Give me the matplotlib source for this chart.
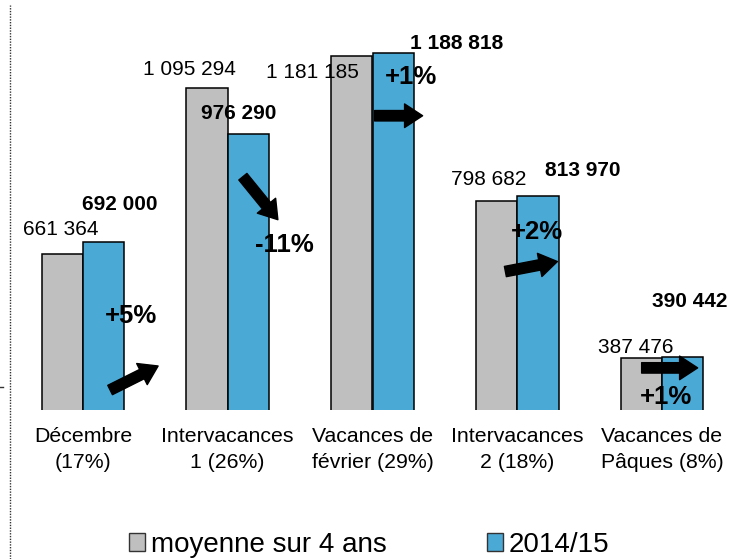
import matplotlib
matplotlib.use("Agg")
import matplotlib.pyplot as plt
from matplotlib.patches import Patch
from matplotlib.lines import Line2D
from matplotlib.transforms import offset_copy
import numpy as np

plt.rcParams['font.family'] = ['Liberation Sans', 'DejaVu Sans']

categories = ["Décembre\n(17%)", "Intervacances\n1 (26%)", "Vacances de\nfévrier (29%)",
              "Intervacances\n2 (18%)", "Vacances de\nPâques (8%)"]
moyenne = [661364, 1095294, 1181185, 798682, 387476]
saison = [692000, 976290, 1188818, 813970, 390442]
series_names = ["moyenne sur 4 ans", "2014/15"]

GREY = "#BFBFBF"
BLUE = "#4BA9D5"

W, H, DPI = 745, 559, 100
fig = plt.figure(figsize=(W / DPI, H / DPI), dpi=DPI)
ax = fig.add_axes([10.6 / W, 149 / H, 723.8 / W, 400 / H])

x = np.arange(len(categories))
bw = 0.285
ax.bar(x - bw / 2, moyenne, bw, color=GREY, edgecolor="black", linewidth=1.1, zorder=2)
ax.bar(x + bw / 2, saison, bw, color=BLUE, edgecolor="black", linewidth=1.1, zorder=2)

ax.set_xlim(-0.5, len(categories) - 0.5)
ax.set_ylim(251000, 1301000)
for s in ax.spines.values():
    s.set_visible(False)
ax.set_yticks([])
ax.set_xticks(x, categories, fontsize=15.3, linespacing=1.5)
ax.tick_params(axis="x", length=0, pad=12)

def fmt(v):
    return f"{v:,}".replace(",", " ")

# label offsets in pixels (dx, dy downward) relative to bar top centers
grey_off = [(-2, -24), (-18, -19), (-39, 17), (-8, -22), (-5.5, -11)]
blue_off = [(16.5, -37), (-9.5, -20), (63.5, -9), (44.5, -25), (7, -55)]
pct_off = [(27.5, 74), (36.5, 111), (17.5, 24), (-0.5, 36), (-17, 40)]
arrow_tail = [(6.5, 148), (-5.5, 43), (-18.5, 63), (-32.5, 76), (-41, 11)]
arrow_head = [(54.5, 124), (29.5, 86), (29.5, 63), (19.5, 66), (15, 11)]

for i in range(len(categories)):
    ax.annotate(fmt(moyenne[i]), xy=(x[i] - bw / 2, moyenne[i]),
                xytext=(grey_off[i][0], -grey_off[i][1]), textcoords="offset pixels",
                ha="center", va="center", fontsize=15, zorder=3)
    ax.annotate(fmt(saison[i]), xy=(x[i] + bw / 2, saison[i]),
                xytext=(blue_off[i][0], -blue_off[i][1]), textcoords="offset pixels",
                ha="center", va="center", fontsize=15, fontweight="bold", zorder=3)
    pct = round((saison[i] / moyenne[i] - 1) * 100)
    ax.annotate(f"{pct:+d}%", xy=(x[i] + bw / 2, saison[i]),
                xytext=(pct_off[i][0], -pct_off[i][1]), textcoords="offset pixels",
                ha="center", va="center", fontsize=18.5, fontweight="bold", zorder=4)
    hx, hy = arrow_head[i]
    tx, ty = arrow_tail[i]
    tr = offset_copy(ax.transData, fig=fig, x=hx, y=-hy, units="dots")
    ax.annotate("", xy=(x[i] + bw / 2, saison[i]), xycoords=tr,
                xytext=(tx - hx, -(ty - hy)), textcoords="offset pixels",
                arrowprops=dict(arrowstyle="simple,head_length=13,head_width=17,tail_width=7.5",
                                mutation_scale=1, color="black", shrinkA=0, shrinkB=0),
                zorder=4)

handles = [Patch(facecolor=GREY, edgecolor="#333333", linewidth=1),
           Patch(facecolor=BLUE, edgecolor="#333333", linewidth=1)]
fig.legend(handles, series_names, loc="center", bbox_to_anchor=(369 / W, 1 - 545 / H),
           ncol=2, frameon=False, fontsize=20, handlelength=0.6, handleheight=0.6,
           handletextpad=0.2, columnspacing=3.6, borderpad=0, borderaxespad=0)

fig.add_artist(Line2D([10 / W, 10 / W], [0, 1 - 5 / H], transform=fig.transFigure,
                      linestyle=(0, (1, 1)), color="#333333", linewidth=1))
fig.add_artist(Line2D([0, 3 / W], [1 - 387 / H, 1 - 387 / H], transform=fig.transFigure,
                      color="#333333", linewidth=1))

fig.savefig("out.png", dpi=DPI)
